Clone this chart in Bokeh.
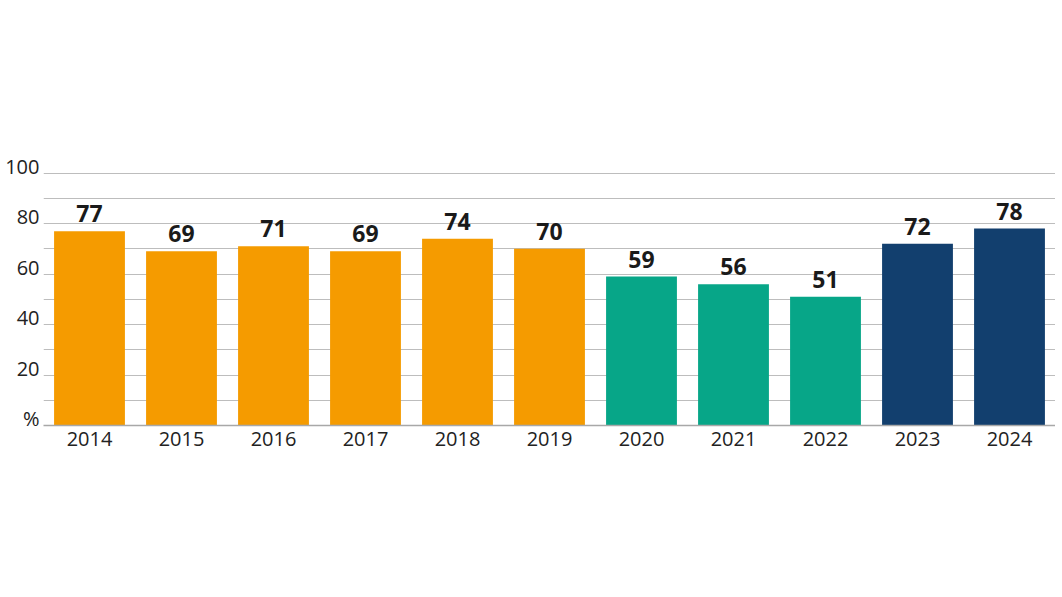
from bokeh.plotting import figure
from bokeh.models import ColumnDataSource, FixedTicker, FactorRange, Range1d
from bokeh.transform import factor_cmap
from bokeh.core.properties import value
from bokeh.embed import file_html
from bokeh.resources import INLINE

years = ["2014", "2015", "2016", "2017", "2018", "2019", "2020", "2021", "2022", "2023", "2024"]
values = [77, 69, 71, 69, 74, 70, 59, 56, 51, 72, 78]
groups = ["a", "a", "a", "a", "a", "a", "b", "b", "b", "c", "c"]
grid_ticks = [0, 10, 20, 30, 40, 50, 60, 70, 80, 90, 100]
label_ticks = [0, 20, 40, 60, 80, 100]
label_texts = ["%", "20", "40", "60", "80", "100"]

FONT = "Open Sans"
LABEL_LIFT = 2.6  # tick labels sit a little above their gridline

src = ColumnDataSource(dict(year=years, val=values, grp=groups, lab=[str(v) for v in values]))

p = figure(x_range=FactorRange(*years, range_padding=0), y_range=Range1d(0, 103),
           width=1055, height=581, output_backend="svg", toolbar_location=None,
           min_border_top=165, min_border_bottom=156, min_border_right=0, min_border_left=43)
p.outline_line_color = None
p.background_fill_color = "white"

p.vbar(x="year", top="val", width=0.77, source=src, line_color=None,
       fill_color=factor_cmap("grp", palette=["#F59B00", "#07A688", "#123F6E"], factors=["a", "b", "c"]))

p.text(x="year", y="val", text="lab", source=src, text_align="center", text_baseline="bottom",
       y_offset=-9, text_font=value(FONT), text_font_style="bold", text_font_size="23px",
       text_color="#1a1a1a")

shifted = [t + LABEL_LIFT for t in label_ticks]
p.yaxis.ticker = FixedTicker(ticks=shifted)
p.yaxis.major_label_overrides = {s: t for s, t in zip(shifted, label_texts)}
p.yaxis.axis_line_color = None
p.yaxis.major_tick_line_color = None
p.yaxis.major_tick_out = 0
p.yaxis.major_tick_in = 0
p.yaxis.minor_tick_line_color = None
p.yaxis.major_label_standoff = 4
p.yaxis.major_label_text_font = FONT
p.yaxis.major_label_text_font_size = "20px"
p.yaxis.major_label_text_color = "#222222"

p.xaxis.axis_line_color = "#a8a8a8"
p.xaxis.axis_line_width = 1.5
p.xaxis.major_tick_line_color = None
p.xaxis.major_tick_out = 0
p.xaxis.major_tick_in = 0
p.xaxis.minor_tick_line_color = None
p.xaxis.major_label_standoff = 6
p.xaxis.major_label_text_font = FONT
p.xaxis.major_label_text_font_size = "20px"
p.xaxis.major_label_text_color = "#222222"

p.xgrid.grid_line_color = None
p.ygrid.ticker = FixedTicker(ticks=grid_ticks)
p.ygrid.grid_line_color = "#bdbdbd"
p.ygrid.grid_line_width = 1

open("out.html", "w").write(file_html(p, INLINE))
